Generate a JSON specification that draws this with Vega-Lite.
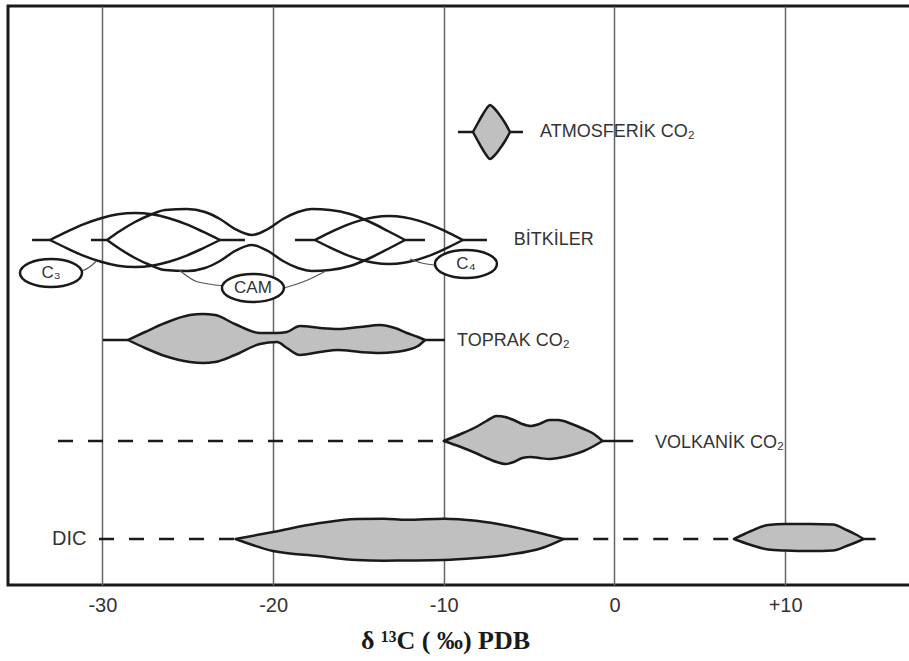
{
  "$schema": "https://vega.github.io/schema/vega-lite/v6.json",
  "width": 905,
  "height": 579,
  "autosize": "none",
  "padding": {"left": 8, "top": 6, "right": 0, "bottom": 76},
  "background": "white",
  "config": {
    "view": {"stroke": "#1a1a1a", "strokeWidth": 3},
    "font": "Liberation Sans"
  },
  "datasets": {
    "shapes": [
      {"g": "atm", "x": -8.29, "lo": 453, "hi": 453},
      {"g": "atm", "x": -8.0, "lo": 444, "hi": 462},
      {"g": "atm", "x": -7.7, "lo": 435, "hi": 471},
      {"g": "atm", "x": -7.47, "lo": 429, "hi": 477},
      {"g": "atm", "x": -7.29, "lo": 426, "hi": 480},
      {"g": "atm", "x": -7.06, "lo": 429, "hi": 477},
      {"g": "atm", "x": -6.77, "lo": 435, "hi": 471},
      {"g": "atm", "x": -6.41, "lo": 444, "hi": 462},
      {"g": "atm", "x": -6.12, "lo": 453, "hi": 453},
      {"g": "top", "x": -28.5, "lo": 245, "hi": 245},
      {"g": "top", "x": -27.5, "lo": 237, "hi": 253},
      {"g": "top", "x": -26.33, "lo": 229, "hi": 262},
      {"g": "top", "x": -24.87, "lo": 223, "hi": 270},
      {"g": "top", "x": -24.11, "lo": 222, "hi": 271},
      {"g": "top", "x": -23.4, "lo": 223, "hi": 270},
      {"g": "top", "x": -22.24, "lo": 230, "hi": 261},
      {"g": "top", "x": -20.77, "lo": 241, "hi": 252},
      {"g": "top", "x": -19.77, "lo": 243, "hi": 252},
      {"g": "top", "x": -19.19, "lo": 237, "hi": 253},
      {"g": "top", "x": -18.43, "lo": 230, "hi": 259},
      {"g": "top", "x": -17.25, "lo": 233, "hi": 257},
      {"g": "top", "x": -16.2, "lo": 235, "hi": 256},
      {"g": "top", "x": -14.91, "lo": 233, "hi": 258},
      {"g": "top", "x": -13.74, "lo": 232, "hi": 260},
      {"g": "top", "x": -12.86, "lo": 233, "hi": 257},
      {"g": "top", "x": -12.16, "lo": 235, "hi": 252},
      {"g": "top", "x": -11.51, "lo": 239, "hi": 248},
      {"g": "top", "x": -11.1, "lo": 245, "hi": 245},
      {"g": "vol", "x": -10.0, "lo": 144, "hi": 144},
      {"g": "vol", "x": -9.0, "lo": 138, "hi": 151},
      {"g": "vol", "x": -8.0, "lo": 131, "hi": 159},
      {"g": "vol", "x": -7.5, "lo": 127, "hi": 164},
      {"g": "vol", "x": -6.9, "lo": 123, "hi": 169},
      {"g": "vol", "x": -6.4, "lo": 121, "hi": 168},
      {"g": "vol", "x": -5.9, "lo": 123, "hi": 165},
      {"g": "vol", "x": -5.4, "lo": 127, "hi": 161},
      {"g": "vol", "x": -4.9, "lo": 128, "hi": 159},
      {"g": "vol", "x": -4.4, "lo": 127, "hi": 161},
      {"g": "vol", "x": -3.8, "lo": 126, "hi": 165},
      {"g": "vol", "x": -3.3, "lo": 127, "hi": 165},
      {"g": "vol", "x": -2.5, "lo": 130, "hi": 161},
      {"g": "vol", "x": -1.8, "lo": 134, "hi": 156},
      {"g": "vol", "x": -1.2, "lo": 139, "hi": 151},
      {"g": "vol", "x": -0.7, "lo": 144, "hi": 144},
      {"g": "dic1", "x": -22.2, "lo": 46, "hi": 46},
      {"g": "dic1", "x": -20.0, "lo": 34, "hi": 53},
      {"g": "dic1", "x": -17.35, "lo": 29, "hi": 61.7},
      {"g": "dic1", "x": -15.1, "lo": 25, "hi": 66},
      {"g": "dic1", "x": -13.5, "lo": 24.3, "hi": 66.3},
      {"g": "dic1", "x": -12.2, "lo": 24.5, "hi": 65.2},
      {"g": "dic1", "x": -10.0, "lo": 25, "hi": 66.3},
      {"g": "dic1", "x": -8.1, "lo": 27, "hi": 64.2},
      {"g": "dic1", "x": -6.2, "lo": 30.3, "hi": 59},
      {"g": "dic1", "x": -4.2, "lo": 37.3, "hi": 51.2},
      {"g": "dic1", "x": -3.0, "lo": 46, "hi": 46},
      {"g": "dic2", "x": 7.0, "lo": 46, "hi": 46},
      {"g": "dic2", "x": 8.0, "lo": 40, "hi": 54},
      {"g": "dic2", "x": 9.0, "lo": 35.5, "hi": 60},
      {"g": "dic2", "x": 10.0, "lo": 34.5, "hi": 61},
      {"g": "dic2", "x": 11.5, "lo": 34, "hi": 61},
      {"g": "dic2", "x": 12.8, "lo": 34.5, "hi": 60.5},
      {"g": "dic2", "x": 13.6, "lo": 39, "hi": 55},
      {"g": "dic2", "x": 14.2, "lo": 43, "hi": 50},
      {"g": "dic2", "x": 14.6, "lo": 46, "hi": 46}
    ],
    "lenses": [
      {"g": "C3", "x": -33.07, "lo": 345, "hi": 345},
      {"g": "C3", "x": -32.07, "lo": 336.7, "hi": 353.3},
      {"g": "C3", "x": -31.08, "lo": 329.1, "hi": 360.9},
      {"g": "C3", "x": -30.08, "lo": 323.2, "hi": 366.8},
      {"g": "C3", "x": -29.09, "lo": 319.3, "hi": 370.7},
      {"g": "C3", "x": -28.09, "lo": 318, "hi": 372},
      {"g": "C3", "x": -27.1, "lo": 319.3, "hi": 370.7},
      {"g": "C3", "x": -26.1, "lo": 323.2, "hi": 366.8},
      {"g": "C3", "x": -25.1, "lo": 329.1, "hi": 360.9},
      {"g": "C3", "x": -24.11, "lo": 336.7, "hi": 353.3},
      {"g": "C3", "x": -23.11, "lo": 345, "hi": 345},
      {"g": "CAM", "x": -29.73, "lo": 345, "hi": 345},
      {"g": "CAM", "x": -28.97, "lo": 336, "hi": 354},
      {"g": "CAM", "x": -28.09, "lo": 327, "hi": 363},
      {"g": "CAM", "x": -27.21, "lo": 320, "hi": 370},
      {"g": "CAM", "x": -26.33, "lo": 315, "hi": 375},
      {"g": "CAM", "x": -25.04, "lo": 314, "hi": 376},
      {"g": "CAM", "x": -23.99, "lo": 317, "hi": 373},
      {"g": "CAM", "x": -23.11, "lo": 324, "hi": 366},
      {"g": "CAM", "x": -22.23, "lo": 334, "hi": 356},
      {"g": "CAM", "x": -21.24, "lo": 340, "hi": 350},
      {"g": "CAM", "x": -20.3, "lo": 334, "hi": 356},
      {"g": "CAM", "x": -19.42, "lo": 324, "hi": 366},
      {"g": "CAM", "x": -18.54, "lo": 317, "hi": 373},
      {"g": "CAM", "x": -17.72, "lo": 314, "hi": 376},
      {"g": "CAM", "x": -16.67, "lo": 315, "hi": 375},
      {"g": "CAM", "x": -15.49, "lo": 319, "hi": 371},
      {"g": "CAM", "x": -14.32, "lo": 327, "hi": 363},
      {"g": "CAM", "x": -13.27, "lo": 336, "hi": 354},
      {"g": "CAM", "x": -12.27, "lo": 345, "hi": 345},
      {"g": "C4", "x": -17.55, "lo": 345, "hi": 345},
      {"g": "C4", "x": -16.68, "lo": 337.6, "hi": 352.4},
      {"g": "C4", "x": -15.81, "lo": 330.9, "hi": 359.1},
      {"g": "C4", "x": -14.94, "lo": 325.6, "hi": 364.4},
      {"g": "C4", "x": -14.08, "lo": 322.2, "hi": 367.8},
      {"g": "C4", "x": -13.21, "lo": 321, "hi": 369},
      {"g": "C4", "x": -12.34, "lo": 322.2, "hi": 367.8},
      {"g": "C4", "x": -11.48, "lo": 325.6, "hi": 364.4},
      {"g": "C4", "x": -10.61, "lo": 330.9, "hi": 359.1},
      {"g": "C4", "x": -9.74, "lo": 337.6, "hi": 352.4},
      {"g": "C4", "x": -8.88, "lo": 345, "hi": 345}
    ],
    "solid": [
      {"x": -9.17, "x2": -8.29, "y": 453},
      {"x": -6.12, "x2": -5.36, "y": 453},
      {"x": -34.12, "x2": -33.07, "y": 345},
      {"x": -23.11, "x2": -21.65, "y": 345},
      {"x": -30.67, "x2": -29.73, "y": 345},
      {"x": -12.27, "x2": -11.1, "y": 345},
      {"x": -18.72, "x2": -17.55, "y": 345},
      {"x": -8.88, "x2": -7.47, "y": 345},
      {"x": -29.97, "x2": -28.5, "y": 245},
      {"x": -11.1, "x2": -9.93, "y": 245},
      {"x": -0.7, "x2": 1.1, "y": 144},
      {"x": 14.6, "x2": 15.3, "y": 46}
    ],
    "dashed": [
      {"x": -32.6, "x2": -10.0, "y": 144},
      {"x": -30.2, "x2": -22.2, "y": 46},
      {"x": -3.0, "x2": 7.0, "y": 46}
    ],
    "conn": [
      {"g": "c3", "x": -31.19, "y": 314},
      {"g": "c3", "x": -30.75, "y": 318},
      {"g": "c3", "x": -30.35, "y": 324},
      {"g": "camL", "x": -25.5, "y": 315},
      {"g": "camL", "x": -24.4, "y": 303},
      {"g": "camL", "x": -22.0, "y": 298},
      {"g": "camR", "x": -19.36, "y": 297},
      {"g": "camR", "x": -17.97, "y": 305},
      {"g": "camR", "x": -16.91, "y": 314},
      {"g": "c4", "x": -11.98, "y": 326},
      {"g": "c4", "x": -11.3, "y": 322},
      {"g": "c4", "x": -10.57, "y": 320}
    ],
    "ellipses": [
      {"t": "C₃", "x": -33.01, "y": 312},
      {"t": "CAM", "x": -21.18, "y": 297},
      {"t": "C₄", "x": -8.7, "y": 321}
    ],
    "labels": [
      {"t": "ATMOSFERİK CO₂", "x": -4.36, "y": 453},
      {"t": "BİTKİLER", "x": -5.9, "y": 345},
      {"t": "TOPRAK CO₂", "x": -9.22, "y": 244},
      {"t": "VOLKANİK CO₂", "x": 2.37, "y": 142}
    ],
    "dic": [
      {"t": "DIC", "x": -32.95, "y": 46}
    ]
  },
  "layer": [
    {
      "data": {"name": "dashed"},
      "mark": {"type": "rule", "stroke": "#1a1a1a", "strokeWidth": 2.5, "strokeDash": [15, 15]},
      "encoding": {
        "x": {
          "field": "x", "type": "quantitative",
          "scale": {"domain": [-35.53, 17.49], "nice": false, "zero": false},
          "axis": {
            "values": [-30, -20, -10, 0, 10],
            "labelExpr": "datum.value > 0 ? '+' + datum.value : '' + datum.value",
            "grid": true, "gridColor": "#666", "gridWidth": 1.5,
            "domain": false, "ticks": false,
            "labelFont": "Liberation Sans", "labelFontSize": 20, "labelColor": "#333",
            "labelPadding": 10,
            "title": "δ ¹³C ( ‰) PDB",
            "titleFont": "Liberation Serif", "titleFontWeight": "bold", "titleFontSize": 26,
            "titleColor": "#1a1a1a", "titleX": 437, "titleY": 63,
            "titleAlign": "center", "titleBaseline": "alphabetic"
          }
        },
        "x2": {"field": "x2"},
        "y": {"field": "y", "type": "quantitative", "scale": {"domain": [0, 579], "nice": false, "zero": false}, "axis": null}
      }
    },
    {
      "data": {"name": "solid"},
      "mark": {"type": "rule", "stroke": "#1a1a1a", "strokeWidth": 2.5},
      "encoding": {
        "x": {"field": "x", "type": "quantitative", "scale": {"domain": [-35.53, 17.49], "nice": false, "zero": false}},
        "x2": {"field": "x2"},
        "y": {"field": "y", "type": "quantitative", "scale": {"domain": [0, 579], "nice": false, "zero": false}, "axis": null}
      }
    },
    {
      "data": {"name": "shapes"},
      "mark": {"type": "area", "interpolate": "monotone", "fill": "#c0c0c0", "stroke": "#1a1a1a", "strokeWidth": 2.5, "strokeJoin": "round", "opacity": 1},
      "encoding": {
        "x": {"field": "x", "type": "quantitative", "scale": {"domain": [-35.53, 17.49], "nice": false, "zero": false}},
        "y": {"field": "lo", "type": "quantitative", "scale": {"domain": [0, 579], "nice": false, "zero": false}, "axis": null},
        "y2": {"field": "hi"},
        "detail": {"field": "g"}
      }
    },
    {
      "data": {"name": "lenses"},
      "mark": {"type": "area", "interpolate": "monotone", "filled": false, "fill": "transparent", "stroke": "#1a1a1a", "strokeWidth": 2.5, "strokeJoin": "round"},
      "encoding": {
        "x": {"field": "x", "type": "quantitative", "scale": {"domain": [-35.53, 17.49], "nice": false, "zero": false}},
        "y": {"field": "lo", "type": "quantitative", "scale": {"domain": [0, 579], "nice": false, "zero": false}, "axis": null},
        "y2": {"field": "hi"},
        "detail": {"field": "g"}
      }
    },
    {
      "data": {"name": "conn"},
      "mark": {"type": "line", "interpolate": "monotone", "stroke": "#555", "strokeWidth": 1.2},
      "encoding": {
        "x": {"field": "x", "type": "quantitative", "scale": {"domain": [-35.53, 17.49], "nice": false, "zero": false}},
        "y": {"field": "y", "type": "quantitative", "scale": {"domain": [0, 579], "nice": false, "zero": false}, "axis": null},
        "detail": {"field": "g"}
      }
    },
    {
      "data": {"name": "ellipses"},
      "mark": {
        "type": "point",
        "shape": "M-1,0 C-1,-0.2484 -0.5523,-0.45 0,-0.45 C0.5523,-0.45 1,-0.2484 1,0 C1,0.2484 0.5523,0.45 0,0.45 C-0.5523,0.45 -1,0.2484 -1,0 Z",
        "size": 3844, "filled": true, "fill": "white", "stroke": "#1a1a1a", "strokeWidth": 2.5, "opacity": 1
      },
      "encoding": {
        "x": {"field": "x", "type": "quantitative", "scale": {"domain": [-35.53, 17.49], "nice": false, "zero": false}},
        "y": {"field": "y", "type": "quantitative", "scale": {"domain": [0, 579], "nice": false, "zero": false}, "axis": null}
      }
    },
    {
      "data": {"name": "ellipses"},
      "mark": {"type": "text", "font": "Liberation Sans", "fontSize": 17, "fill": "#333", "align": "center", "baseline": "middle"},
      "encoding": {
        "x": {"field": "x", "type": "quantitative", "scale": {"domain": [-35.53, 17.49], "nice": false, "zero": false}},
        "y": {"field": "y", "type": "quantitative", "scale": {"domain": [0, 579], "nice": false, "zero": false}, "axis": null},
        "text": {"field": "t"}
      }
    },
    {
      "data": {"name": "labels"},
      "mark": {"type": "text", "font": "Liberation Sans", "fontSize": 18, "fill": "#333", "align": "left", "baseline": "middle"},
      "encoding": {
        "x": {"field": "x", "type": "quantitative", "scale": {"domain": [-35.53, 17.49], "nice": false, "zero": false}},
        "y": {"field": "y", "type": "quantitative", "scale": {"domain": [0, 579], "nice": false, "zero": false}, "axis": null},
        "text": {"field": "t"}
      }
    },
    {
      "data": {"name": "dic"},
      "mark": {"type": "text", "font": "Liberation Sans", "fontSize": 20, "fill": "#333", "align": "left", "baseline": "middle"},
      "encoding": {
        "x": {"field": "x", "type": "quantitative", "scale": {"domain": [-35.53, 17.49], "nice": false, "zero": false}},
        "y": {"field": "y", "type": "quantitative", "scale": {"domain": [0, 579], "nice": false, "zero": false}, "axis": null},
        "text": {"field": "t"}
      }
    }
  ]
}
